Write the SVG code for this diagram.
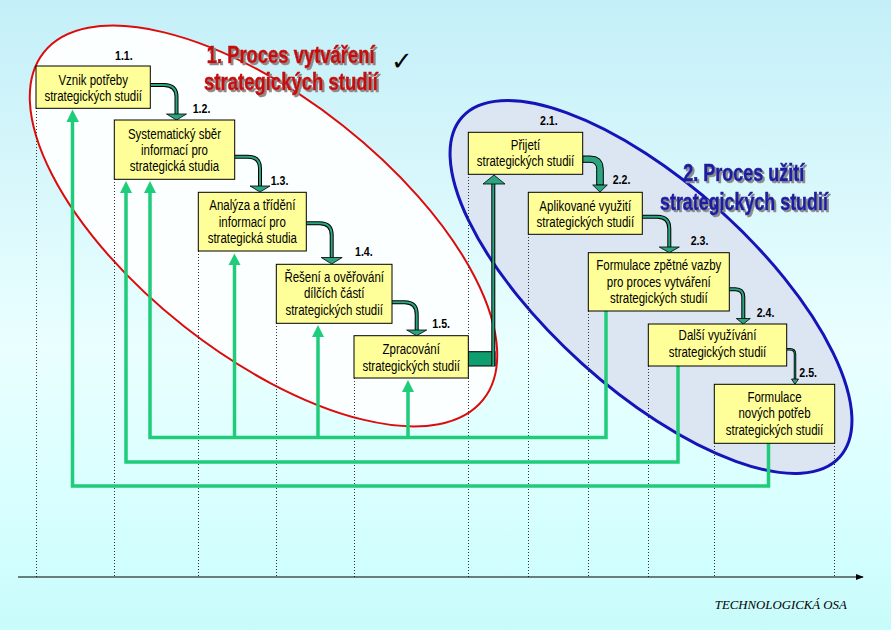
<svg xmlns="http://www.w3.org/2000/svg" width="891" height="630" viewBox="0 0 891 630">
<defs>
<linearGradient id="bg" x1="0" y1="0" x2="0" y2="1">
<stop offset="0" stop-color="#c4eff8"/>
<stop offset="0.55" stop-color="#eaffff"/>
<stop offset="0.8" stop-color="#d8ffff"/>
<stop offset="1" stop-color="#c8fbfb"/>
</linearGradient>
<filter id="shd" x="-5%" y="-20%" width="115%" height="150%">
<feFlood flood-color="#8a8a8a"/>
<feComposite in2="SourceAlpha" operator="in"/>
<feOffset dx="2" dy="2" result="s"/>
<feMerge><feMergeNode in="s"/><feMergeNode in="SourceGraphic"/></feMerge>
</filter>
<marker id="ax" viewBox="0 0 10 10" refX="9" refY="5" markerWidth="8" markerHeight="8" markerUnits="userSpaceOnUse" orient="auto">
<path d="M0,1 L10,5 L0,9 Z" fill="#000"/>
</marker>
<style>
.box{fill:#ffff99;stroke:#000;stroke-width:1}
.bt{font-family:"Liberation Sans",Arial,sans-serif;font-size:14px;text-anchor:middle;fill:#000}
.num{font-family:"Liberation Sans",Arial,sans-serif;font-size:12.5px;font-weight:bold;fill:#000}
.dot{stroke:#333;stroke-width:1;stroke-dasharray:1 2;fill:none}
.bus{stroke:#1fcc7a;stroke-width:3.5;fill:none}
.bh{fill:#1fcc7a}
.so{stroke:#000;stroke-width:4;fill:none}
.si{stroke:#2ba57f;stroke-width:2;fill:none}
.sh{fill:#2ba57f;stroke:#000;stroke-width:0.8}
.t1{font-family:"Liberation Sans",Arial,sans-serif;font-size:24px;font-weight:bold;stroke-width:0.6}
</style>
</defs>
<rect x="0" y="0" width="891" height="630" fill="url(#bg)"/>

<g id="ellipses">
<ellipse cx="263.5" cy="226" rx="280" ry="128" transform="rotate(38.25 263.5 226)" fill="#fbffff" stroke="none"/>
<ellipse cx="651" cy="287" rx="254" ry="103" transform="rotate(42 651 287)" fill="#dce6f3" stroke="#1414b8" stroke-width="3"/>
<ellipse cx="263.5" cy="226" rx="280" ry="128" transform="rotate(38.25 263.5 226)" fill="none" stroke="#dd0b0b" stroke-width="2"/>
</g>

<g id="grid">
<line class="dot" x1="36.5" y1="108" x2="36.5" y2="577"/>
<line class="dot" x1="114.5" y1="179" x2="114.5" y2="577"/>
<line class="dot" x1="198.5" y1="251" x2="198.5" y2="577"/>
<line class="dot" x1="276.5" y1="323" x2="276.5" y2="577"/>
<line class="dot" x1="354.5" y1="378" x2="354.5" y2="577"/>
<line class="dot" x1="468.5" y1="174" x2="468.5" y2="577"/>
<line class="dot" x1="528.5" y1="234" x2="528.5" y2="577"/>
<line class="dot" x1="588.5" y1="311" x2="588.5" y2="577"/>
<line class="dot" x1="648.5" y1="366" x2="648.5" y2="577"/>
<line class="dot" x1="714.5" y1="443" x2="714.5" y2="577"/>
<line class="dot" x1="834.5" y1="443" x2="834.5" y2="577"/>
</g>

<g id="axis">
<line x1="18" y1="577" x2="863" y2="577" stroke="#000" stroke-width="1.2" marker-end="url(#ax)"/>
<text x="714.8" y="609" font-family="Liberation Serif,serif" font-style="italic" font-size="12" textLength="132" lengthAdjust="spacingAndGlyphs" fill="#000">TECHNOLOGICKÁ OSA</text>
</g>

<g id="connectors">
<polyline class="bus" points="606,311 606,437.5 150,437.5 150,192"/>
<line class="bus" x1="234.5" y1="437.5" x2="234.5" y2="264"/>
<line class="bus" x1="318" y1="437.5" x2="318" y2="336"/>
<line class="bus" x1="408" y1="437.5" x2="408" y2="391"/>
<polyline class="bus" points="678,366 678,462 126,462 126,192"/>
<polyline class="bus" points="768.5,443 768.5,486 72.5,486 72.5,121"/>
<polygon class="bh" points="150,181 144,193 156,193"/>
<polygon class="bh" points="126,181 120,193 132,193"/>
<polygon class="bh" points="72.5,109.5 66.5,122 79,122"/>
<polygon class="bh" points="234.5,253.5 228.5,265 240.5,265"/>
<polygon class="bh" points="318,325 312,337 324,337"/>
<polygon class="bh" points="408,380 402,392 414,392"/>

<rect x="468.3" y="351.7" width="26.7" height="14.3" fill="#0f9e6e" stroke="#000" stroke-width="1"/>
<line class="so" x1="493.3" y1="366" x2="493.3" y2="183"/>
<line class="si" x1="493.3" y1="366" x2="493.3" y2="183"/>
<polygon class="sh" points="494,175 483,184 505,184"/>

<path class="so" d="M150.5,85 H164 Q176.5,85 176.5,97 V114.5"/>
<path class="si" d="M150.5,85 H164 Q176.5,85 176.5,97 V114.5"/>
<polygon class="sh" points="176.5,120 166.5,114 186.5,114"/>

<path class="so" d="M234.7,156.7 H248 Q260,156.7 260,168.7 V186"/>
<path class="si" d="M234.7,156.7 H248 Q260,156.7 260,168.7 V186"/>
<polygon class="sh" points="260,192 250,186 270,186"/>

<path class="so" d="M306.3,223.3 H319.7 Q331.7,223.3 331.7,235.3 V257.5"/>
<path class="si" d="M306.3,223.3 H319.7 Q331.7,223.3 331.7,235.3 V257.5"/>
<polygon class="sh" points="331.7,264 321.2,257.5 342.2,257.5"/>

<path class="so" d="M392,302.3 H404.7 Q416.7,302.3 416.7,314.3 V330"/>
<path class="si" d="M392,302.3 H404.7 Q416.7,302.3 416.7,314.3 V330"/>
<polygon class="sh" points="416.7,335.7 406.7,330 426.7,330"/>

<path d="M582.7,156 H590 Q603.3,156 603.3,169.3 V185 H596.7 V169.3 Q596.7,162.3 590,162.3 H582.7 Z" fill="#2ba57f" stroke="#000" stroke-width="1"/>
<polygon class="sh" points="600,192 592.7,185 607.3,185"/>

<path class="so" d="M642.3,216.7 H657.3 Q669.3,216.7 669.3,228.7 V247"/>
<path class="si" d="M642.3,216.7 H657.3 Q669.3,216.7 669.3,228.7 V247"/>
<polygon class="sh" points="669.3,252.7 659.3,247 679.3,247"/>

<path class="so" d="M729.3,289.3 H735.3 Q743.3,289.3 743.3,297.3 V318.5"/>
<path class="si" d="M729.3,289.3 H735.3 Q743.3,289.3 743.3,297.3 V318.5"/>
<polygon class="sh" points="743.3,324 736.3,318.5 750.3,318.5"/>

<path d="M786.7,349.3 H790 Q795,349.3 795,354.3 V379.5" fill="none" stroke="#000" stroke-width="2.5"/>
<path d="M786.7,349.3 H790 Q795,349.3 795,354.3 V379.5" fill="none" stroke="#2ba57f" stroke-width="0.8"/>
<polygon class="sh" points="795,384.3 791.5,379 798.5,379"/>
</g>

<g id="titles">
<g filter="url(#shd)" fill="#c41010" stroke="#c41010">
<text class="t1" transform="matrix(0.768 0 0 1 206.7 62.7)">1. Proces vytváření</text>
<text class="t1" transform="matrix(0.772 0 0 1 204 90)">strategických studií</text>
</g>
<text x="391" y="70" font-family="DejaVu Sans,sans-serif" font-size="26" fill="#000">✓</text>
<g filter="url(#shd)" fill="#1c1ca0" stroke="#1c1ca0">
<text class="t1" transform="matrix(0.75 0 0 1 683.3 180.7)">2. Proces užití</text>
<text class="t1" transform="matrix(0.745 0 0 1 660 210)">strategických studií</text>
</g>
</g>

<g id="n11"><rect class="box" x="36" y="66" width="114.3" height="42.3"/>
<text class="bt" transform="matrix(0.82 0 0 1 93.2 85)">Vznik potřeby</text><text class="bt" transform="matrix(0.82 0 0 1 93.2 100.5)">strategických studií</text>
<text class="num" transform="matrix(0.85 0 0 1 115 59.5)">1.1.</text></g>

<g id="n12"><rect class="box" x="114.3" y="120" width="120.4" height="59.3"/>
<text class="bt" transform="matrix(0.82 0 0 1 174.5 139)">Systematický sběr</text><text class="bt" transform="matrix(0.82 0 0 1 174.5 155)">informací pro</text><text class="bt" transform="matrix(0.82 0 0 1 174.5 171)">strategická studia</text>
<text class="num" transform="matrix(0.85 0 0 1 192.7 112.7)">1.2.</text></g>

<g id="n13"><rect class="box" x="198.3" y="192.3" width="108" height="58.7"/>
<text class="bt" transform="matrix(0.82 0 0 1 252.3 210)">Analýza a třídění</text><text class="bt" transform="matrix(0.82 0 0 1 252.3 226.5)">informací pro</text><text class="bt" transform="matrix(0.82 0 0 1 252.3 243)">strategická studia</text>
<text class="num" transform="matrix(0.85 0 0 1 270.7 185)">1.3.</text></g>

<g id="n14"><rect class="box" x="276.3" y="264.3" width="115.7" height="59"/>
<text class="bt" transform="matrix(0.82 0 0 1 334.2 281.7)">Řešení a ověřování</text><text class="bt" transform="matrix(0.82 0 0 1 334.2 298.3)">dílčích částí</text><text class="bt" transform="matrix(0.82 0 0 1 334.2 315)">strategických studií</text>
<text class="num" transform="matrix(0.85 0 0 1 355 256)">1.4.</text></g>

<g id="n15"><rect class="box" x="354" y="335.7" width="114.3" height="42.3"/>
<text class="bt" transform="matrix(0.82 0 0 1 411.2 354)">Zpracování</text><text class="bt" transform="matrix(0.82 0 0 1 411.2 370.7)">strategických studií</text>
<text class="num" transform="matrix(0.85 0 0 1 432.3 328.3)">1.5.</text></g>

<g id="n21"><rect class="box" x="468.3" y="132.3" width="114.4" height="42"/>
<text class="bt" transform="matrix(0.82 0 0 1 525.5 150)">Přijetí</text><text class="bt" transform="matrix(0.82 0 0 1 525.5 165.5)">strategických studií</text>
<text class="num" transform="matrix(0.85 0 0 1 540 125)">2.1.</text></g>

<g id="n22"><rect class="box" x="528.3" y="192.3" width="114" height="42"/>
<text class="bt" transform="matrix(0.82 0 0 1 585.3 210.7)">Aplikované využití</text><text class="bt" transform="matrix(0.82 0 0 1 585.3 226.7)">strategických studií</text>
<text class="num" transform="matrix(0.85 0 0 1 612.7 184)">2.2.</text></g>

<g id="n23"><rect class="box" x="588.3" y="252.7" width="141" height="58.3"/>
<text class="bt" transform="matrix(0.82 0 0 1 658.8 270)">Formulace zpětné vazby</text><text class="bt" transform="matrix(0.82 0 0 1 658.8 286.7)">pro proces vytváření</text><text class="bt" transform="matrix(0.82 0 0 1 658.8 303.3)">strategických studií</text>
<text class="num" transform="matrix(0.85 0 0 1 690.7 245)">2.3.</text></g>

<g id="n24"><rect class="box" x="648.3" y="324" width="138.4" height="42"/>
<text class="bt" transform="matrix(0.82 0 0 1 717.5 340)">Další využívání</text><text class="bt" transform="matrix(0.82 0 0 1 717.5 356.7)">strategických studií</text>
<text class="num" transform="matrix(0.85 0 0 1 756.7 316.7)">2.4.</text></g>

<g id="n25"><rect class="box" x="714.3" y="384.3" width="120.4" height="59"/>
<text class="bt" transform="matrix(0.82 0 0 1 774.5 401.7)">Formulace</text><text class="bt" transform="matrix(0.82 0 0 1 774.5 418.3)">nových potřeb</text><text class="bt" transform="matrix(0.82 0 0 1 774.5 435)">strategických studií</text>
<text class="num" transform="matrix(0.85 0 0 1 799.3 376.7)">2.5.</text></g>
</svg>
